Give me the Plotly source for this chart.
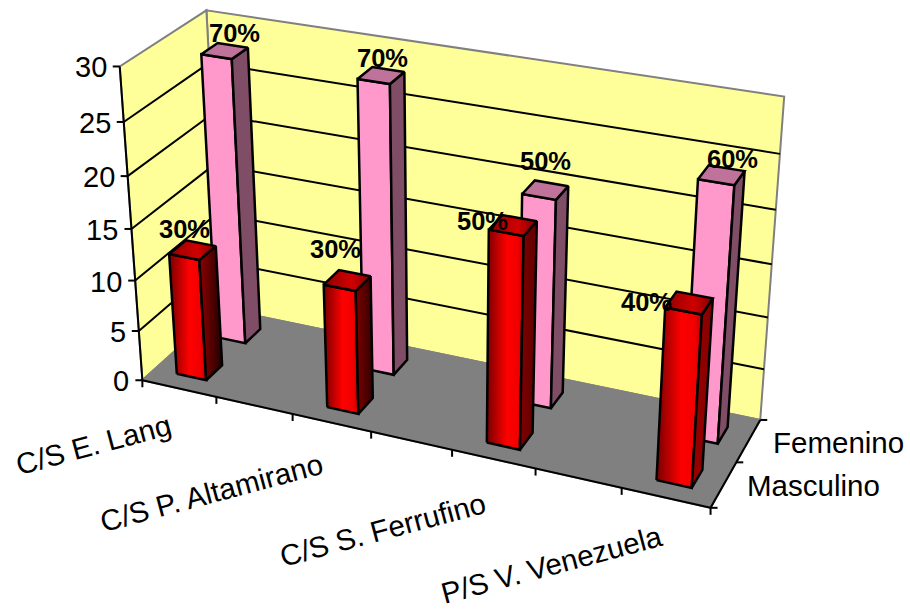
import numpy as np
import plotly.graph_objects as go

# Survey counts per health centre (40 respondents each)
categories = ["C/S E. Lang", "C/S P. Altamirano", "C/S S. Ferrufino", "P/S V. Venezuela"]
series = ["Masculino", "Femenino"]
masculino = [12, 12, 20, 16]
femenino = [28, 28, 20, 24]
masculino_pct = ["30%", "30%", "50%", "40%"]
femenino_pct = ["70%", "70%", "50%", "60%"]
z_ticks = [0, 5, 10, 15, 20, 25, 30]
Z_MAX = 30
SECTIONS = 7  # four centres with an empty section between neighbours

FONT = "Liberation Sans"
WALL = "#FFFF99"
EDGE = "#808080"
FLOOR = "#808080"
PINK = ("#FF99CC", "#804D66", "#C0739A")
RED_FRONT = [[0, "#780000"], [0.55, "#FF0000"], [0.85, "#F00000"], [1, "#B80000"]]
RED_SIDES = [
    [[0, "#900000"], [1, "#200000"]],
    [[0, "#800000"], [1, "#300000"]],
    [[0, "#800000"], [1, "#600000"]],
    [[0, "#960000"], [1, "#880000"]],
]
RED_TOP = [[0, "#900000"], [0.6, "#D00000"], [1, "#800000"]]

# Camera: a projective map from the unit box (u along categories, v along
# series, w up) to page pixels, solved by reweighted least squares.
calibration = [
    ((0, 0, 0), (141.7, 380)), ((0, 1, 0), (223, 307.5)),
    ((1, 1, 0), (760, 420)), ((1, 0, 0), (710, 508)),
    ((0, 0, 1), (120, 66)), ((0, 1, 1), (205.7, 10)),
    ((1, 1, 1), (784, 96)),
    ((1 / 7, 0, 0), (216, 396)), ((2 / 7, 0, 0), (292, 413)),
    ((3 / 7, 0, 0), (372, 431)), ((4 / 7, 0, 0), (452, 449)),
    ((5 / 7, 0, 0), (536, 468)), ((6 / 7, 0, 0), (622, 488)),
    ((0.7 / 7, 0.65, 0), (245.7, 344)), ((0.7 / 7, 0.85, 0), (260, 330)),
    ((6.7 / 7, 0.65, 0), (717.7, 444)), ((6.7 / 7, 0.85, 0), (728.3, 425.7)),
    ((0.7 / 7, 0.15, 0), (206, 381)), ((0.7 / 7, 0.35, 0), (221.7, 366)),
    ((6.7 / 7, 0.15, 0), (692, 488)), ((6.7 / 7, 0.35, 0), (701.7, 471.7)),
    ((0.3 / 7, 0.65, 28 / 30), (201.7, 55)), ((6.3 / 7, 0.65, 0.8), (697.7, 178)),
    ((6.3 / 7, 0.15, 16 / 30), (665, 308)), ((4.3 / 7, 0.15, 2 / 3), (490, 230.7)),
    ((4.3 / 7, 0.65, 2 / 3), (521.7, 195)),
]
weights = np.ones(len(calibration))
for _ in range(8):
    rows, rhs = [], []
    for s, ((u, v, w), (px, py)) in zip(weights, calibration):
        rows.append([s * c for c in [u, v, w, 1, 0, 0, 0, 0, -px * u, -px * v, -px * w]]); rhs.append(s * px)
        rows.append([s * c for c in [0, 0, 0, 0, u, v, w, 1, -py * u, -py * v, -py * w]]); rhs.append(s * py)
    sol = np.linalg.lstsq(np.array(rows, float), np.array(rhs, float), rcond=None)[0]
    weights = np.array([1 / (sol[8] * u + sol[9] * v + sol[10] * w + 1) for (u, v, w), _p in calibration])
CAM = np.append(sol, 1.0).reshape(3, 4)


def project(u, v, w):
    a, b, c = CAM @ np.array([u, v, w, 1.0])
    return a / c, b / c


fig = go.Figure()


def polygon(points, fill=None, gradient=None, line="black", width=2.5):
    pts = [project(*p) for p in points]
    xs = [p[0] for p in pts] + [pts[0][0]]
    ys = [p[1] for p in pts] + [pts[0][1]]
    kw = dict(fill="toself", fillcolor=fill) if fill else {}
    if gradient:
        kw = dict(fill="toself", fillgradient=dict(type="horizontal", colorscale=gradient))
    fig.add_trace(go.Scatter(x=xs, y=ys, mode="lines", line=dict(color=line, width=width, simplify=False),
                             hoverinfo="skip", showlegend=False, **kw))


def segment(a, b, color="black", width=2):
    pa, pb = project(*a), project(*b)
    fig.add_trace(go.Scatter(x=[pa[0], pb[0]], y=[pa[1], pb[1]], mode="lines",
                             line=dict(color=color, width=width), hoverinfo="skip", showlegend=False))


def tick(a, dx, dy):
    px, py = project(*a)
    fig.add_trace(go.Scatter(x=[px, px + dx], y=[py, py + dy], mode="lines",
                             line=dict(color="black", width=2), hoverinfo="skip", showlegend=False))


def bar(i, j, value, face, side, top, gradient=False):
    uc = (2 * i + 0.5) / SECTIONS
    vc = (j + 0.5) / len(series)
    half_u = 0.2 / SECTIONS
    u0, u1 = uc - half_u, uc + half_u
    v0, v1 = vc - 0.1, vc + 0.1
    h = value / Z_MAX
    front_pts = [(u0, v0, 0), (u1, v0, 0), (u1, v0, h), (u0, v0, h)]
    side_pts = [(u1, v0, 0), (u1, v1, 0), (u1, v1, h), (u1, v0, h)]
    top_pts = [(u0, v0, h), (u1, v0, h), (u1, v1, h), (u0, v1, h)]
    if gradient:
        polygon(front_pts, gradient=face)
        polygon(side_pts, gradient=side)
        polygon(top_pts, gradient=top)
    else:
        polygon(front_pts, fill=face)
        polygon(side_pts, fill=side)
        polygon(top_pts, fill=top)


# Walls and floor
polygon([(0, 1, 0), (1, 1, 0), (1, 1, 1), (0, 1, 1)], fill=WALL, line=EDGE, width=2)
polygon([(0, 0, 0), (0, 1, 0), (0, 1, 1), (0, 0, 1)], fill=WALL, line=EDGE, width=2)
polygon([(0, 0, 0), (1, 0, 0), (1, 1, 0), (0, 1, 0)], fill=FLOOR, line=EDGE, width=2)

# Gridlines across both walls
for t in z_ticks[1:-1]:
    w = t / Z_MAX
    segment((0, 0, w), (0, 1, w))
    segment((0, 1, w), (1, 1, w))

# Axis lines and tick marks
segment((0, 0, 0), (0, 0, 1))
segment((0, 0, 0), (1, 0, 0))
segment((1, 0, 0), (1, 1, 0))
for t in z_ticks:
    tick((0, 0, t / Z_MAX), -7, 0)
for k in range(SECTIONS + 1):
    tick((k / SECTIONS, 0, 0), 0, 7)
for k in range(len(series) + 1):
    tick((1, k / len(series), 0), 7, 0)

# Bars, far series first so the near one overlaps it
for i, value in enumerate(femenino):
    bar(i, 1, value, *PINK)
for i, value in enumerate(masculino):
    bar(i, 0, value, RED_FRONT, RED_SIDES[i], RED_TOP, gradient=True)

annotations = []


def label(x, y, text, size, bold=False, angle=0, xanchor="center"):
    annotations.append(dict(
        x=x, y=y, xref="x", yref="y", text=f"<b>{text}</b>" if bold else text, showarrow=False,
        xanchor=xanchor, yanchor="middle", textangle=angle,
        font=dict(family=FONT, size=size, color="black"),
    ))


for t in z_ticks:
    px, py = project(0, 0, t / Z_MAX)
    label(px - 11, py + 1, str(t), 29, xanchor="right")

# Category labels sit beside every second tick, nudged clear of the axis
category_nudge = [(-123, 48), (-160, 61), (-153, 61), (-159, 57)]
for i, name in enumerate(categories):
    px, py = project((2 * i + 1) / SECTIONS, 0, 0)
    dx, dy = category_nudge[i]
    label(px + dx, py + dy, name, 29.5, angle=-15)

series_nudge = [(90, 1), (90, 2)]
for j, name in enumerate(series):
    px, py = project(1, (j + 0.5) / len(series), 0)
    dx, dy = series_nudge[j]
    label(px + dx, py + dy, name, 29.5)

# Percentage labels above the bars
pct_nudge = {
    0: [(-8, -21), (-12, -32), (-30, -4), (-43, -1)],
    1: [(10, -18), (1, -17), (0, -29), (11, -16)],
}
for j, (vals, pct) in enumerate([(masculino, masculino_pct), (femenino, femenino_pct)]):
    for i, (value, text) in enumerate(zip(vals, pct)):
        px, py = project((2 * i + 0.5) / SECTIONS, (j + 0.5) / len(series), value / Z_MAX)
        dx, dy = pct_nudge[j][i]
        label(px + dx, py + dy, text, 25.5, bold=True)

fig.update_layout(
    width=910, height=610, margin=dict(l=0, r=0, t=0, b=0),
    paper_bgcolor="white", plot_bgcolor="white", showlegend=False,
    xaxis=dict(range=[0, 910], visible=False, fixedrange=True),
    yaxis=dict(range=[610, 0], visible=False, fixedrange=True),
    annotations=annotations,
)
fig.write_html("out.html", config=dict(displayModeBar=False))
